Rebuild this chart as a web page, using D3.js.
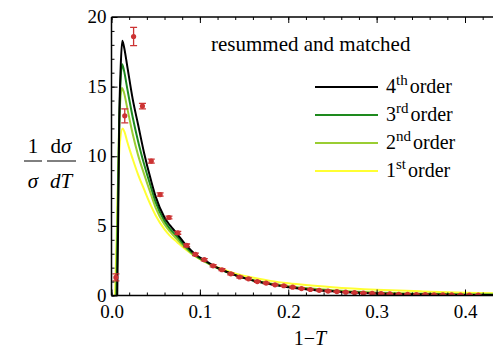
<!DOCTYPE html>
<html>
<head>
<meta charset="utf-8">
<script src="https://cdn.jsdelivr.net/npm/d3@7"></script>
<style>
  body { margin: 0; background: #fff; }
  svg { display: block; font-family: "Liberation Serif", "Times New Roman", "DejaVu Serif", serif; }
</style>
</head>
<body>
<svg id="chart" width="493" height="350"></svg>
<script>
// measured data (bin centres, 1-T)
var dataX = [0.005, 0.015, 0.025, 0.035, 0.045, 0.055, 0.065, 0.075, 0.085, 0.095,
             0.105, 0.115, 0.125, 0.135, 0.145, 0.155, 0.165, 0.175, 0.185, 0.195,
             0.205, 0.215, 0.225, 0.235, 0.245, 0.255, 0.265, 0.275, 0.285, 0.295,
             0.305, 0.315, 0.325, 0.335, 0.345, 0.355, 0.365, 0.375, 0.385, 0.395,
             0.405, 0.415];
var dataY = [1.3, 12.9, 18.6, 13.6, 9.65, 7.25, 5.6, 4.5, 3.6, 2.95,
             2.57, 2.13, 1.85, 1.56, 1.33, 1.2, 1.0, 0.89, 0.77, 0.7,
             0.6, 0.5, 0.43, 0.37, 0.32, 0.28, 0.24, 0.2, 0.17, 0.15,
             0.13, 0.11, 0.09, 0.08, 0.07, 0.06, 0.05, 0.04, 0.04, 0.03,
             0.03, 0.02];
var dataErr = [0.25, 0.5, 0.65, 0.2, 0.15, 0.12, 0.1, 0.1, 0.1, 0.09,
               0.08, 0.08, 0.07, 0.07, 0.06, 0.06, 0.06, 0.05, 0.05, 0.05,
               0.05, 0.04, 0.04, 0.04, 0.04, 0.04, 0.03, 0.03, 0.03, 0.03,
               0.03, 0.03, 0.03, 0.03, 0.03, 0.03, 0.03, 0.03, 0.03, 0.03,
               0.03, 0.03];

// resummed and matched predictions
var order4X = [0.0065, 0.0075, 0.0088, 0.0104, 0.0122, 0.014, 0.018, 0.024, 0.03, 0.037, 0.045, 0.05, 0.06, 0.066, 0.074, 0.084, 0.095, 0.105, 0.115, 0.125, 0.135, 0.145, 0.155, 0.165, 0.18, 0.2, 0.22, 0.25, 0.3, 0.35, 0.4, 0.44];
var order4Y = [0, 5, 12.6, 16.4, 18.3, 17.9, 16.4, 14.1, 12.3, 10.2, 8.2, 7.1, 5.6, 5.05, 4.45, 3.65, 2.95, 2.55, 2.15, 1.85, 1.58, 1.35, 1.17, 1.0, 0.8, 0.6, 0.45, 0.3, 0.14, 0.07, 0.04, 0.03];
var order3X = [0.0058, 0.007, 0.0085, 0.010, 0.012, 0.014, 0.018, 0.024, 0.03, 0.037, 0.045, 0.05, 0.06, 0.066, 0.074, 0.084, 0.095, 0.105, 0.115, 0.125, 0.135, 0.145, 0.155, 0.165, 0.18, 0.2, 0.22, 0.25, 0.3, 0.35, 0.4, 0.44];
var order3Y = [0, 5, 11.5, 15, 16.6, 16.2, 14.8, 12.8, 11.1, 9.4, 7.7, 6.7, 5.35, 4.8, 4.25, 3.5, 2.88, 2.5, 2.12, 1.83, 1.57, 1.35, 1.17, 1.01, 0.82, 0.63, 0.48, 0.33, 0.17, 0.1, 0.06, 0.05];
var order2X = [0.005, 0.0065, 0.008, 0.0095, 0.0118, 0.014, 0.018, 0.024, 0.03, 0.037, 0.045, 0.05, 0.06, 0.066, 0.074, 0.084, 0.095, 0.105, 0.115, 0.125, 0.135, 0.145, 0.155, 0.165, 0.18, 0.2, 0.22, 0.25, 0.3, 0.35, 0.4, 0.44];
var order2Y = [0, 5, 10.5, 13.5, 14.9, 14.6, 13.4, 11.6, 10.1, 8.7, 7.2, 6.3, 5.1, 4.6, 4.05, 3.4, 2.82, 2.45, 2.1, 1.82, 1.57, 1.36, 1.19, 1.04, 0.86, 0.67, 0.53, 0.38, 0.22, 0.14, 0.09, 0.08];
var order1X = [0.004, 0.0058, 0.0075, 0.0095, 0.0125, 0.015, 0.018, 0.024, 0.03, 0.037, 0.045, 0.05, 0.06, 0.066, 0.074, 0.084, 0.095, 0.105, 0.115, 0.125, 0.135, 0.145, 0.155, 0.165, 0.18, 0.2, 0.22, 0.25, 0.3, 0.35, 0.4, 0.44];
var order1Y = [0, 4, 8.5, 11, 12, 11.7, 11, 9.8, 8.7, 7.6, 6.4, 5.75, 4.75, 4.3, 3.85, 3.3, 2.8, 2.45, 2.15, 1.9, 1.68, 1.5, 1.35, 1.22, 1.05, 0.88, 0.75, 0.6, 0.42, 0.3, 0.2, 0.16];

var seriesNames = ["4", "3", "2", "1"];
var seriesSup = ["th", "rd", "nd", "st"];
var seriesColors = ["#000000", "#1e8a1e", "#9acd32", "#ffff33"];

var xTicks = [0, 0.1, 0.2, 0.3, 0.4];
var yTicks = [0, 5, 10, 15, 20];

var svg = d3.select("#chart");
var padL = 111.5, padR = 493, padT = 17, padB = 295.5;
var serif = "Liberation Serif, Times New Roman, serif";

var x = d3.scaleLinear().domain([0, 0.4]).range([padL, 465]);
var y = d3.scaleLinear().domain([0, 20]).range([padB, padT]);

svg.append("defs").append("clipPath").attr("id", "plotClip")
  .append("rect").attr("x", padL).attr("y", padT).attr("width", padR - padL).attr("height", padB - padT);

// curves
var series = [
  {xs: order4X, ys: order4Y},
  {xs: order3X, ys: order3Y},
  {xs: order2X, ys: order2Y},
  {xs: order1X, ys: order1Y}
];
var line = d3.line().x(d => x(d[0])).y(d => y(d[1])).curve(d3.curveMonotoneX);
var curves = svg.append("g").attr("clip-path", "url(#plotClip)");
// draw 1st order first so black sits on top
for (let i = series.length - 1; i >= 0; i--) {
  let pts = series[i].xs.map((v, j) => [v, series[i].ys[j]]);
  curves.append("path")
    .attr("d", line(pts))
    .attr("fill", "none")
    .attr("stroke", seriesColors[i])
    .attr("stroke-width", 2);
}

// data points with error bars
var red = "#cc3333";
var pts = dataX.map((v, i) => ({x: v, y: dataY[i], e: dataErr[i]}));
var dg = svg.append("g").attr("clip-path", "url(#plotClip)");
var pg = dg.selectAll("g").data(pts).enter().append("g");
pg.append("line")
  .attr("x1", d => x(d.x)).attr("x2", d => x(d.x))
  .attr("y1", d => y(d.y - d.e)).attr("y2", d => y(d.y + d.e))
  .attr("stroke", red).attr("stroke-width", 1.3);
pg.append("line")
  .attr("x1", d => x(d.x) - 3.5).attr("x2", d => x(d.x) + 3.5)
  .attr("y1", d => y(d.y + d.e)).attr("y2", d => y(d.y + d.e))
  .attr("stroke", red).attr("stroke-width", 1.3);
pg.append("line")
  .attr("x1", d => x(d.x) - 3.5).attr("x2", d => x(d.x) + 3.5)
  .attr("y1", d => y(d.y - d.e)).attr("y2", d => y(d.y - d.e))
  .attr("stroke", red).attr("stroke-width", 1.3);
pg.append("circle")
  .attr("cx", d => x(d.x)).attr("cy", d => y(d.y)).attr("r", 2.6)
  .attr("fill", red);

// axes (ticks pointing inwards)
var fs = "19px";
var xMajor = svg.append("g").attr("transform", `translate(0,${padB})`)
  .call(d3.axisBottom(x).tickValues(xTicks).tickFormat(d3.format(".1f")).tickSizeInner(-6).tickSizeOuter(0).tickPadding(7));
var xMinor = svg.append("g").attr("transform", `translate(0,${padB})`)
  .call(d3.axisBottom(x).tickValues(d3.range(0, 0.44, 0.02)).tickFormat("").tickSizeInner(-3).tickSizeOuter(0));
var xTop = svg.append("g").attr("transform", `translate(0,${padT})`)
  .call(d3.axisTop(x).tickValues(xTicks).tickFormat("").tickSizeInner(-6).tickSizeOuter(0));
var xTopMinor = svg.append("g").attr("transform", `translate(0,${padT})`)
  .call(d3.axisTop(x).tickValues(d3.range(0, 0.44, 0.02)).tickFormat("").tickSizeInner(-3).tickSizeOuter(0));
var yMajor = svg.append("g").attr("transform", `translate(${padL},0)`)
  .call(d3.axisLeft(y).tickValues(yTicks).tickSizeInner(-6).tickSizeOuter(0).tickPadding(5));
var yMinor = svg.append("g").attr("transform", `translate(${padL},0)`)
  .call(d3.axisLeft(y).tickValues(d3.range(0, 21, 1)).tickFormat("").tickSizeInner(-3).tickSizeOuter(0));

svg.selectAll(".domain").remove();
svg.selectAll(".tick line").attr("stroke", "#000").attr("stroke-width", 1);
svg.selectAll(".tick text").attr("font-family", serif).attr("font-size", fs).attr("fill", "#000");
xMajor.selectAll(".tick text").attr("dy", "0.8em");
yMajor.selectAll(".tick text").attr("dy", "0.3em");

// frame lines
svg.append("line").attr("x1", padL).attr("x2", padR).attr("y1", padB).attr("y2", padB)
  .attr("stroke", "#000").attr("stroke-width", 1.5);
svg.append("line").attr("x1", padL).attr("x2", padR).attr("y1", padT).attr("y2", padT)
  .attr("stroke", "#000").attr("stroke-width", 1.5);
svg.append("line").attr("x1", padL).attr("x2", padL).attr("y1", padT).attr("y2", padB)
  .attr("stroke", "#000").attr("stroke-width", 1.5);

// axis labels
var xl = svg.append("text").attr("x", 310).attr("y", 345).attr("text-anchor", "middle")
  .attr("font-family", serif).attr("font-size", "20px");
xl.append("tspan").text("1\u2212");
xl.append("tspan").attr("font-style", "italic").text("T");

var yl = svg.append("g").attr("font-family", serif).attr("font-size", "21px");
yl.append("text").attr("x", 33).attr("y", 153).attr("text-anchor", "middle").text("1");
yl.append("text").attr("x", 33).attr("y", 188).attr("text-anchor", "middle").attr("font-style", "italic").text("\u03c3");
yl.append("line").attr("x1", 24).attr("x2", 42).attr("y1", 161).attr("y2", 161).attr("stroke", "#000").attr("stroke-width", 1);
var num = yl.append("text").attr("x", 61).attr("y", 153).attr("text-anchor", "middle");
num.append("tspan").text("d");
num.append("tspan").attr("font-style", "italic").text("\u03c3");
yl.append("text").attr("x", 61).attr("y", 188).attr("text-anchor", "middle").attr("font-style", "italic").text("dT");
yl.append("line").attr("x1", 47).attr("x2", 76).attr("y1", 161).attr("y2", 161).attr("stroke", "#000").attr("stroke-width", 1);

// legend
svg.append("text").attr("x", 211).attr("y", 51).attr("font-family", serif).attr("font-size", "21px")
  .text("resummed and matched");
var lg = svg.append("g").attr("font-family", serif);
seriesNames.forEach((n, i) => {
  let ly = 87 + i * 28;
  lg.append("line").attr("x1", 315).attr("x2", 378).attr("y1", ly).attr("y2", ly)
    .attr("stroke", seriesColors[i]).attr("stroke-width", 2);
  let t = lg.append("text").attr("x", 386).attr("y", ly + 6).attr("font-size", "20px");
  t.append("tspan").text(n);
  t.append("tspan").attr("font-size", "15px").attr("dy", "-8").text(seriesSup[i]);
  t.append("tspan").attr("dy", "8").attr("dx", "2").text("order");
});
</script>
</body>
</html>
